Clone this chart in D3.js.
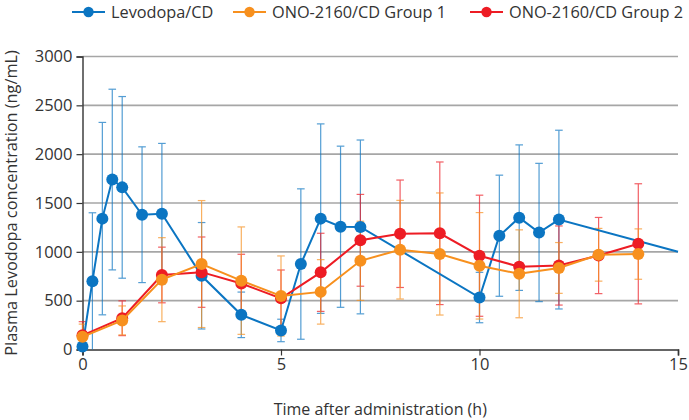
<!DOCTYPE html>
<html>
<head>
<meta charset="utf-8">
<script src="https://cdn.jsdelivr.net/npm/d3@7"></script>
<style>
  html, body { margin: 0; padding: 0; background: #fff; }
  svg { display: block; font-family: "Open Sans", sans-serif; }
</style>
</head>
<body>
<svg id="chart" width="689" height="420"></svg>
<script>
// ---- Data ----
const seriesNames = ["Levodopa/CD", "ONO-2160/CD Group 1", "ONO-2160/CD Group 2"];
const seriesColors = ["#0b75c2", "#f7901e", "#ed1c24"];

const levodopaTime = [0, 0.25, 0.5, 0.75, 1, 1.5, 2, 3, 4, 5, 5.5, 6, 6.5, 7, 10, 10.5, 11, 11.5, 12, 15];
const levodopaMean = [30, 700, 1340, 1740, 1660, 1380, 1390, 755, 355, 195, 875, 1340, 1257, 1255, 532, 1165, 1350, 1198, 1330, 1000];
const levodopaSD   = [30, 700, 985, 925, 930, 695, 720, 545, 233, 115, 770, 970, 825, 890, 258, 620, 745, 708, 915, null];

const groupTime  = [0, 1, 2, 3, 4, 5, 6, 7, 8, 9, 10, 11, 12, 13, 14];
const group1Mean = [130, 298, 715, 875, 705, 548, 590, 908, 1022, 978, 857, 775, 835, 970, 977];
const group1SD   = [130, 148, 430, 650, 550, 410, 330, 405, 505, 625, 545, 450, 260, 270, 258];
const group2Mean = [145, 320, 763, 792, 675, 524, 790, 1118, 1185, 1190, 960, 848, 860, 962, 1082];
const group2SD   = [140, 178, 285, 360, 300, 290, 400, 470, 550, 730, 620, 40, 405, 390, 615];

const xTicks = [0, 5, 10, 15];
const yTicks = [0, 500, 1000, 1500, 2000, 2500, 3000];
const xLabel = "Time after administration (h)";
const yLabel = "Plasma Levodopa concentration (ng/mL)";

// ---- Build series ----
function build(t, m, s) { return t.map((v, i) => ({ t: v, m: m[i], sd: s[i] })); }
const series = [
  { name: seriesNames[0], color: seriesColors[0], data: build(levodopaTime, levodopaMean, levodopaSD) },
  { name: seriesNames[2], color: seriesColors[2], data: build(groupTime, group2Mean, group2SD) },
  { name: seriesNames[1], color: seriesColors[1], data: build(groupTime, group1Mean, group1SD) }
];

const svg = d3.select("#chart");
const margin = { left: 82.5, right: 11, top: 56.5, bottom: 70.5 };
const W = 689, H = 420;
const x = d3.scaleLinear().domain([0, 15]).range([margin.left, W - margin.right]);
const y = d3.scaleLinear().domain([0, 3000]).range([H - margin.bottom, margin.top]);

const textColor = "#333333";

// gridlines
svg.append("g").selectAll("line").data(yTicks.filter(d => d > 0)).join("line")
  .attr("x1", x(0)).attr("x2", x(15))
  .attr("y1", d => y(d)).attr("y2", d => y(d))
  .attr("stroke", "#a6a6a6").attr("stroke-width", 1.6);

// y axis
const yAxis = d3.axisLeft(y).tickValues(yTicks).tickSize(6).tickPadding(4).tickFormat(d3.format("d"));
const gy = svg.append("g").attr("transform", `translate(${x(0)},0)`).call(yAxis);
gy.select(".domain").attr("stroke", "#333").attr("stroke-width", 1.4);
gy.selectAll(".tick line").attr("stroke", "#333").attr("stroke-width", 1.2);
gy.selectAll(".tick text").attr("fill", textColor).style("font-size", "16.5px").style("font-family", "Open Sans");

// x axis
const xAxis = d3.axisBottom(x).tickValues(xTicks).tickSize(6).tickPadding(3).tickFormat(d3.format("d"));
const gx = svg.append("g").attr("transform", `translate(0,${y(0)})`).call(xAxis);
gx.select(".domain").attr("stroke", "#333").attr("stroke-width", 1.6);
gx.selectAll(".tick line").attr("stroke", "#333").attr("stroke-width", 1.2);
gx.selectAll(".tick text").attr("fill", textColor).style("font-size", "16.5px").style("font-family", "Open Sans");

// axis labels
svg.append("text").attr("x", (x(0) + x(15)) / 2).attr("y", 415)
  .attr("text-anchor", "middle").attr("fill", textColor)
  .style("font-size", "16px").text(xLabel);
svg.append("text")
  .attr("transform", `translate(17,${(y(0) + y(3000)) / 2}) rotate(-90)`)
  .attr("text-anchor", "middle").attr("fill", textColor)
  .style("font-size", "16.3px").text(yLabel);

// error bars
const capW = 3.8;
series.forEach(s => {
  const g = svg.append("g").attr("stroke", s.color).attr("stroke-width", 1.2).attr("opacity", 0.7);
  s.data.filter(d => d.sd != null).forEach(d => {
    const top = y(Math.min(3000, d.m + d.sd));
    const bot = y(Math.max(0, d.m - d.sd));
    const cx = x(d.t);
    g.append("line").attr("x1", cx).attr("x2", cx).attr("y1", top).attr("y2", bot);
    g.append("line").attr("x1", cx - capW).attr("x2", cx + capW).attr("y1", top).attr("y2", top);
    if (d.m - d.sd > 0)
      g.append("line").attr("x1", cx - capW).attr("x2", cx + capW).attr("y1", bot).attr("y2", bot);
  });
});

// lines and markers
const line = d3.line().x(d => x(d.t)).y(d => y(d.m));
series.forEach(s => {
  svg.append("path").datum(s.data).attr("d", line)
    .attr("fill", "none").attr("stroke", s.color).attr("stroke-width", 2);
  svg.append("g").selectAll("circle").data(s.data.filter(d => d.t < 15)).join("circle")
    .attr("cx", d => x(d.t)).attr("cy", d => y(d.m)).attr("r", 6)
    .attr("fill", s.color);
});

// legend
const legendItems = [
  { name: seriesNames[0], color: seriesColors[0], x0: 72 },
  { name: seriesNames[1], color: seriesColors[1], x0: 233 },
  { name: seriesNames[2], color: seriesColors[2], x0: 470 }
];
const lg = svg.append("g");
legendItems.forEach(it => {
  lg.append("line").attr("x1", it.x0).attr("x2", it.x0 + 33).attr("y1", 12).attr("y2", 12)
    .attr("stroke", it.color).attr("stroke-width", 2);
  lg.append("circle").attr("cx", it.x0 + 16.5).attr("cy", 12).attr("r", 5.2).attr("fill", it.color);
  lg.append("text").attr("x", it.x0 + 39).attr("y", 18).attr("fill", textColor)
    .style("font-size", "16.3px").text(it.name);
});
</script>
</body>
</html>
